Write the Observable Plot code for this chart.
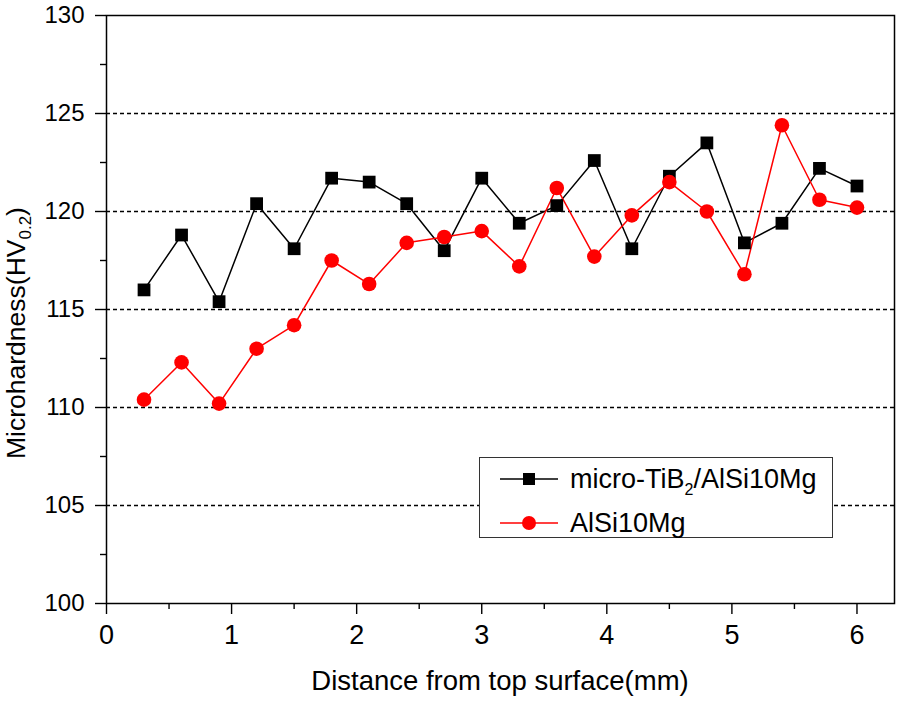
<!DOCTYPE html>
<html>
<head>
<meta charset="utf-8">
<script src="https://cdn.jsdelivr.net/npm/d3@7"></script>
<script src="https://cdn.jsdelivr.net/npm/@observablehq/plot@0.6"></script>
<style>
  html, body { margin: 0; padding: 0; background: white; }
  #wrap { position: relative; width: 898px; height: 701px; font-family: "Liberation Sans", Arial, sans-serif; }
  #legend { position: absolute; left: 479px; top: 457px; width: 352px; height: 79px; border: 1.5px solid #333; background: white; }
  .entry { position: absolute; left: 0; height: 36px; display: flex; align-items: center; font-size: 27px; color: #000; white-space: nowrap; }
  .entry svg { margin-left: 20px; margin-right: 12px; flex: none; }
  sub { font-size: 16px; vertical-align: -7px; line-height: 0; }
</style>
</head>
<body>
<div id="wrap"></div>
<script>
const distance = [0.3, 0.6, 0.9, 1.2, 1.5, 1.8, 2.1, 2.4, 2.7, 3.0, 3.3, 3.6, 3.9, 4.2, 4.5, 4.8, 5.1, 5.4, 5.7, 6.0];
const tib2 = [116.0, 118.8, 115.4, 120.4, 118.1, 121.7, 121.5, 120.4, 118.0, 121.7, 119.4, 120.3, 122.6, 118.1, 121.8, 123.5, 118.4, 119.4, 122.2, 121.3];
const alsi = [110.4, 112.3, 110.2, 113.0, 114.2, 117.5, 116.3, 118.4, 118.7, 119.0, 117.2, 121.2, 117.7, 119.8, 121.5, 120.0, 116.8, 124.4, 120.6, 120.2];
const xTicks = [0, 1, 2, 3, 4, 5, 6];
const xMinor = [0.5, 1.5, 2.5, 3.5, 4.5, 5.5];
const yTicks = [100, 105, 110, 115, 120, 125, 130];
const yMinor = [102.5, 107.5, 112.5, 117.5, 122.5, 127.5];
const gridTicks = [105, 110, 115, 120, 125];
const seriesNames = ["micro-TiB2/AlSi10Mg", "AlSi10Mg"];

const rowsA = distance.map((d, i) => ({x: d, y: tib2[i]}));
const rowsB = distance.map((d, i) => ({x: d, y: alsi[i]}));

const chart = Plot.plot({
  width: 898, height: 701,
  marginLeft: 106, marginRight: 4, marginTop: 15, marginBottom: 98,
  x: {domain: [0, 6.3]},
  y: {domain: [100, 130]},
  style: {fontFamily: "'Liberation Sans', Arial, sans-serif", fontSize: "23px", background: "white", color: "black"},
  marks: [
    Plot.gridY(gridTicks, {stroke: "black", strokeOpacity: 1, strokeWidth: 1.4, strokeDasharray: "4,3"}),
    Plot.frame({stroke: "black", strokeWidth: 1.5}),
    Plot.axisX(xTicks, {tickSize: 11, tickPadding: 10, label: null, fontSize: 27, strokeWidth: 1.4, tickFormat: d => String(d)}),
    Plot.axisX(xMinor, {tickSize: 6, tickFormat: () => "", label: null, strokeWidth: 1.4}),
    Plot.axisY(yTicks, {tickSize: 11, tickPadding: 11, label: null, fontSize: 24, strokeWidth: 1.4, tickFormat: d => String(d)}),
    Plot.axisY(yMinor, {tickSize: 6, tickFormat: () => "", label: null, strokeWidth: 1.4}),
    Plot.line(rowsA, {x: "x", y: "y", stroke: "black", strokeWidth: 1.5}),
    Plot.line(rowsB, {x: "x", y: "y", stroke: "#ff0000", strokeWidth: 1.5}),
    Plot.dot(rowsA, {x: "x", y: "y", symbol: "square", fill: "black", r: 7.2}),
    Plot.dot(rowsB, {x: "x", y: "y", symbol: "circle", fill: "#ff0000", r: 7.3})
  ]
});

const wrap = document.getElementById("wrap");
wrap.appendChild(chart);

const svg = d3.select(chart);
svg.append("text")
  .attr("x", 500).attr("y", 690)
  .attr("text-anchor", "middle")
  .attr("font-size", 27.5)
  .attr("fill", "black")
  .text("Distance from top surface(mm)");

const yl = svg.append("text")
  .attr("transform", "translate(25,333) rotate(-90)")
  .attr("text-anchor", "middle")
  .attr("font-size", 26.5)
  .attr("fill", "black");
yl.append("tspan").text("Microhardness(HV");
yl.append("tspan").attr("font-size", 17).attr("dy", 6).text("0.2");
yl.append("tspan").attr("dy", -6).text(")");

// Legend
const legend = document.createElement("div");
legend.id = "legend";
const entries = [
  {name: seriesNames[0], color: "black", symbol: "square", top: 3},
  {name: seriesNames[1], color: "#ff0000", symbol: "circle", top: 47}
];
entries.forEach(e => {
  const div = document.createElement("div");
  div.className = "entry";
  div.style.top = e.top + "px";
  const marker = e.symbol === "square"
    ? `<rect x="23" y="11" width="12" height="12" fill="${e.color}"/>`
    : `<circle cx="29" cy="17" r="7" fill="${e.color}"/>`;
  const label = e.name === "micro-TiB2/AlSi10Mg" ? "micro-TiB<sub>2</sub>/AlSi10Mg" : e.name;
  div.innerHTML = `<svg width="58" height="34"><line x1="0" x2="58" y1="17" y2="17" stroke="${e.color}" stroke-width="1.5"/>${marker}</svg><span>${label}</span>`;
  legend.appendChild(div);
});
wrap.appendChild(legend);
</script>
</body>
</html>
